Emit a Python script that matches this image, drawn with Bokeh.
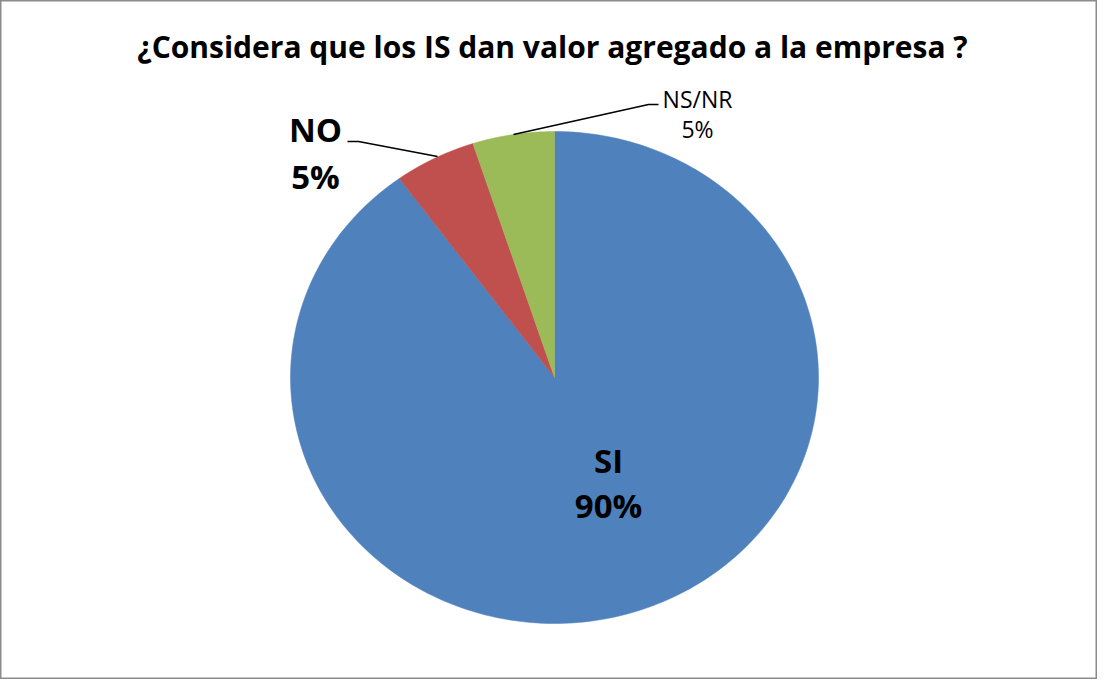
import numpy as np
from bokeh.plotting import figure
from bokeh.models import Range1d, ColumnDataSource
from bokeh.core.properties import value
from bokeh.embed import file_html
from bokeh.resources import INLINE

# ---- data ----
categories = ["SI", "NO", "NS/NR"]
shares = [90, 5, 5]
colors = ["#4F81BD", "#C0504D", "#9BBB59"]
title_text = "¿Considera que los IS dan valor agregado a la empresa ?"

W, H = 1097, 679
p = figure(width=W, height=H, output_backend="svg", toolbar_location=None,
           x_range=Range1d(0, W), y_range=Range1d(H, 0), min_border=0)
p.axis.visible = False
p.grid.visible = False
p.outline_line_color = "#8c8c8c"
p.outline_line_width = 2
p.background_fill_color = "white"

# pie geometry (screen px)
cx, cy = 554, 377
rx, ry = 264, 246

total = float(sum(shares))
frac = np.cumsum([0] + shares) / total
xs, ys = [], []
for i in range(len(shares)):
    # clockwise from 12 o'clock
    t = np.linspace(frac[i], frac[i + 1], 240) * 2 * np.pi
    px = cx + rx * np.sin(t)
    py = cy - ry * np.cos(t)
    xs.append(np.concatenate([[cx], px, [cx]]).tolist())
    ys.append(np.concatenate([[cy], py, [cy]]).tolist())

src = ColumnDataSource(dict(xs=xs, ys=ys, color=colors, cat=categories))
p.patches("xs", "ys", source=src, fill_color="color", line_color="color", line_width=0.5)

font = value("Open Sans")

# title
p.text(x=[552], y=[46], text=[title_text], text_font=font,
       text_font_style="bold", text_font_size="30px", text_align="center",
       text_baseline="middle", text_color="black")

pct = [f"{s}%" for s in shares]
# SI label
p.text(x=[608, 608], y=[460, 505], text=[categories[0], pct[0]],
       text_font=font, text_font_style="bold", text_font_size="33px",
       text_align="center", text_baseline="middle", text_color="black")

# NO label
p.text(x=[315, 315], y=[129, 176], text=[categories[1], pct[1]],
       text_font=font, text_font_style="bold", text_font_size="33px",
       text_align="center", text_baseline="middle", text_color="black")

# NS/NR label
p.text(x=[697, 697], y=[98, 128], text=[categories[2], pct[2]],
       text_font=font, text_font_size="23px",
       text_align="center", text_baseline="middle", text_color="black")

# leader lines
p.line(x=[347, 358, 437], y=[141, 141, 156], line_color="black", line_width=1.5)
p.line(x=[513, 648, 658], y=[134, 104, 104], line_color="black", line_width=1.5)

open("out.html", "w").write(file_html(p, INLINE))
